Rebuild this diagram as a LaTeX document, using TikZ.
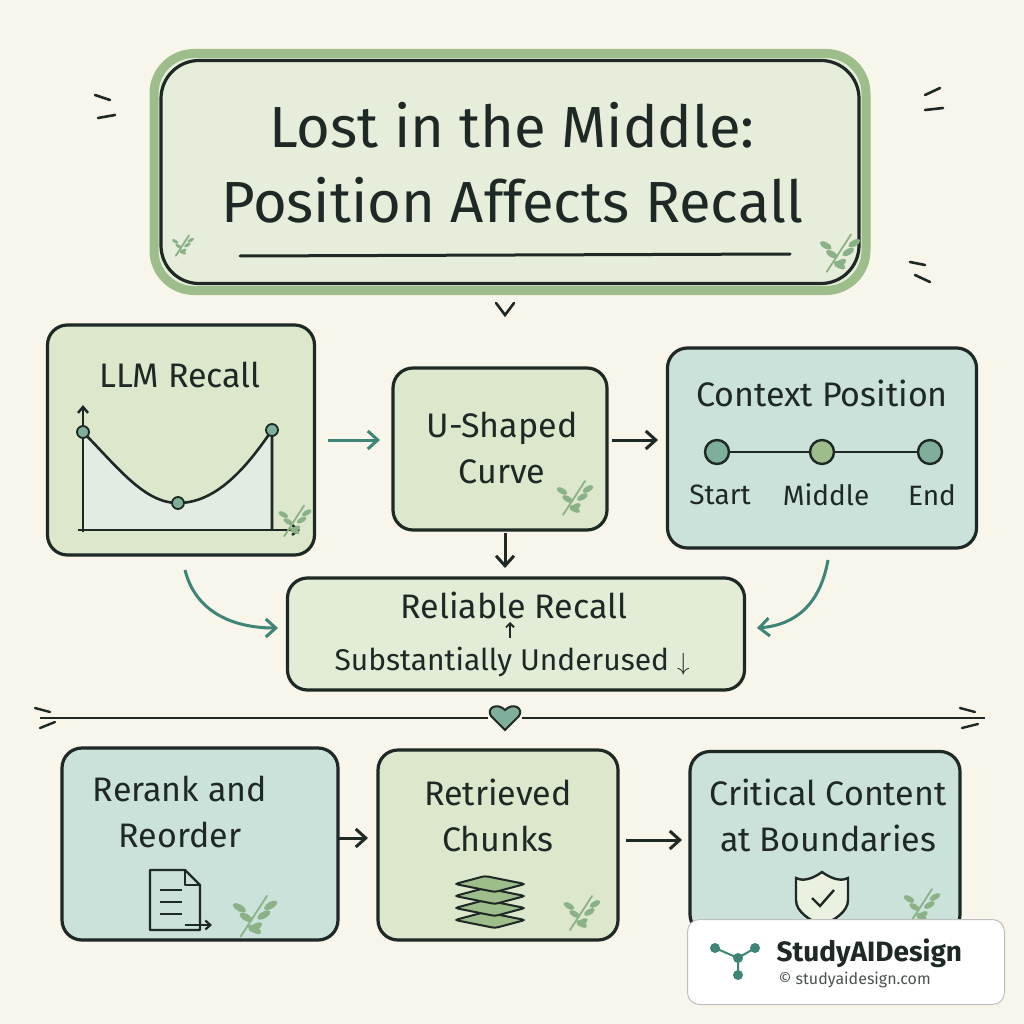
\documentclass[tikz,border=0pt]{standalone}
\usepackage{fontspec}
\setmainfont{Fira Sans}
\usetikzlibrary{arrows.meta}
\definecolor{bg}{HTML}{F8F5EA}
\definecolor{gf}{HTML}{DCE7CC}
\definecolor{tf}{HTML}{CBE2DA}
\definecolor{ink}{HTML}{1E2824}
\definecolor{gr}{HTML}{9DBD8A}
\definecolor{teal}{HTML}{3E8578}
\definecolor{dot}{HTML}{7FAE9A}
\newcommand{\fs}[2][0]{\fontsize{#2}{46}\selectfont}
\begin{document}
\begin{tikzpicture}[x=1pt,y=-1pt,
 box/.style={draw=ink,line width=3.2pt,rounded corners=20pt},
 lbl/.style={text=ink,align=center,font=\fs{34}},
 arr/.style={draw=ink,line width=3pt,-{Straight Barb[length=10pt,width=18pt,line width=3pt]}},
 tarr/.style={draw=teal,line width=3pt,-{Straight Barb[length=10pt,width=18pt,line width=3pt]}}]
\useasboundingbox (0,0) rectangle (1024,1024);
\fill[bg] (0,0) rectangle (1024,1024);
% title
\node[draw=gr,line width=9pt,rounded corners=40pt,fill=gf!70,minimum width=712pt,minimum height=237pt] (title) at (510,172) {};
\node[box,rounded corners=38pt,minimum width=698pt,minimum height=223pt] at (510,172) {};
\node[lbl,font=\fs{58}] (t1) at (512,125) {Lost in the Middle:};
\node[lbl,font=\fs{58}] (t2) at (512,200) {Position Affects Recall};
\draw[ink,line width=3pt,line cap=round] (240,256) -- (790,254);
\draw[ink,line width=2.6pt,line cap=round] (496,303) -- (505,315) -- (514,303);
% LLM Recall
\node[box,fill=gf,minimum width=267pt,minimum height=230pt] (llm) at (181,440) {};
\node[lbl] at (180,375) {LLM Recall};
\fill[gf!60!dot!40] (83,432) .. controls (120,470) and (145,503) .. (178,503) .. controls (215,503) and (245,470) .. (272,430) -- (272,530) -- (83,530) -- cycle;
\draw[ink,line width=2.4pt,-{Straight Barb[length=6pt,width=10pt]}] (83,532) -- (83,405);
\draw[ink,line width=2.4pt,-{Straight Barb[length=6pt,width=10pt]}] (78,530) -- (300,530);
\draw[ink,line width=2.6pt] (83,432) .. controls (120,470) and (145,503) .. (178,503) .. controls (215,503) and (245,470) .. (272,430) -- (272,530);
\foreach \p in {(83,432),(178,503),(272,430)} \filldraw[fill=dot,draw=ink,line width=1.8pt] \p circle (6pt);
% U-shaped
\node[box,fill=gf,minimum width=214pt,minimum height=162pt] (u) at (500,449) {};
\node[lbl] at (502,448) {U-Shaped\\Curve};
% Context position
\node[box,fill=tf,minimum width=309pt,minimum height=200pt] (cp) at (822,448) {};
\node[lbl] at (822,393) {Context Position};
\draw[ink,line width=2.2pt] (717,452) -- (930,452);
\filldraw[fill=dot,draw=ink,line width=2.4pt] (717,452) circle (12pt);
\filldraw[fill=gr,draw=ink,line width=2.4pt] (822,452) circle (12pt);
\filldraw[fill=dot,draw=ink,line width=2.4pt] (930,452) circle (12pt);
\node[lbl,font=\fs{28}] at (720,495) {Start};
\node[lbl,font=\fs{28}] at (826,495) {Middle};
\node[lbl,font=\fs{28}] at (932,495) {End};
% reliable
\node[box,fill=gf!80,minimum width=457pt,minimum height=112pt] (rel) at (516,634) {};
\node[lbl] at (514,605) {Reliable Recall};
\draw[ink,line width=1.8pt,-{Straight Barb[length=4pt,width=8pt]}] (510,638) -- (510,622);
\node[lbl,font=\fs{30}] at (512,662) {Substantially Underused $\downarrow$};
% arrows
\draw[tarr] (328,440) -- (380,440);
\draw[arr] (612,440) -- (658,440);
\draw[arr] (505,533) -- (505,568);
\draw[tarr] (185,570) .. controls (195,610) and (230,628) .. (278,628);
\draw[tarr] (828,560) .. controls (820,605) and (795,625) .. (757,628);
% divider
\draw[ink,line width=2.6pt] (40,718) -- (488,718);
\draw[ink,line width=2.6pt] (522,718) -- (985,718);
\filldraw[fill=dot,draw=ink,line width=2pt] (505,730) -- (491,716) .. controls (486,708) and (497,702) .. (505,710) .. controls (513,702) and (524,708) .. (519,716) -- cycle;
% bottom
\node[box,fill=tf,minimum width=276pt,minimum height=192pt] (rr) at (200,844) {};
\node[lbl] at (180,812) {Rerank and\\Reorder};
\node[box,fill=gf,minimum width=240pt,minimum height=190pt] (rc) at (498,845) {};
\node[lbl] at (498,815) {Retrieved\\Chunks};
\node[box,fill=tf,minimum width=270pt,minimum height=183pt] (cc) at (825,843) {};
\node[lbl] at (828,815) {Critical Content\\at Boundaries};
\draw[arr] (338,838) -- (368,838);
\draw[arr] (626,840) -- (682,840);
% icons
\draw[ink,line width=2.2pt,line join=round] (150,870) -- (150,930) -- (200,930) -- (200,885) -- (185,870) -- cycle;
\draw[ink,line width=2.2pt,line join=round] (185,870) -- (185,885) -- (200,885);
\foreach \yy in {890,902,914} \draw[ink,line width=1.8pt] (160,\yy) -- (182,\yy);
\draw[ink,line width=2.2pt,-{Straight Barb[length=5pt,width=9pt]}] (185,925) -- (212,925);
\foreach \yy in {920,908,896,884} \filldraw[fill=gr,draw=ink,line width=2pt,rounded corners=3pt] (455,\yy) -- (495,\yy+8) -- (525,\yy) -- (485,\yy-8) -- cycle;
\draw[ink,line width=2.4pt,fill=gf!60] (822,872) .. controls (808,882) and (800,880) .. (796,878) -- (796,900) .. controls (796,912) and (810,920) .. (822,926) .. controls (834,920) and (848,912) .. (848,900) -- (848,878) .. controls (844,880) and (836,882) .. (822,872) -- cycle;
\draw[ink,line width=2.4pt] (812,898) -- (820,906) -- (834,890);
% leaves
\foreach \x/\y/\s in {575/497/1,295/520/0.9,840/252/1.1,582/912/1,255/915/1.2,922/905/1,183/245/0.6} {
 \begin{scope}[shift={(\x,\y)},scale=\s]
 \draw[gr!80!teal,line width=1.8pt,line cap=round] (-12,18) -- (10,-16);
 \foreach \t in {-8,2,10} {
  \fill[gr!80!teal,rotate around={-30:(-\t*0.7-6,-\t+4)}] (-\t*0.7-6,-\t+4) ellipse (6pt and 2.8pt);
  \fill[gr!80!teal,rotate around={30:(\t*0.7+6,-\t+2)}] (\t*0.7+6,-\t+2) ellipse (6pt and 2.8pt);}
 \end{scope}}
% ticks
\draw[ink,line width=2.6pt,line cap=round] (95,95) -- (110,100) (98,118) -- (115,115);
\draw[ink,line width=2.6pt,line cap=round] (925,95) -- (940,88) (925,110) -- (943,108);
\draw[ink,line width=2.6pt,line cap=round] (910,262) -- (925,265) (915,275) -- (930,282);
\draw[ink,line width=2.4pt,line cap=round] (35,708) -- (50,712) (40,728) -- (55,722);
\draw[ink,line width=2.4pt,line cap=round] (960,708) -- (975,712) (962,728) -- (978,724);
% watermark
\node[draw=gray!50,line width=1pt,fill=white,rounded corners=12pt,minimum width=317pt,minimum height=85pt] (wm) at (846,962) {};
\node[text=ink,font=\fs{28}\bfseries,anchor=west] at (773,953) {StudyAIDesign};
\node[text=ink!80,font=\fs{16},anchor=west] at (775,980) {© studyaidesign.com};
\draw[teal,line width=2pt] (715,948) -- (738,958) -- (755,948) (738,958) -- (738,975);
\foreach \p in {(715,948),(738,958),(755,948),(738,975)} \fill[teal] \p circle (5pt);
\end{tikzpicture}
\end{document}
